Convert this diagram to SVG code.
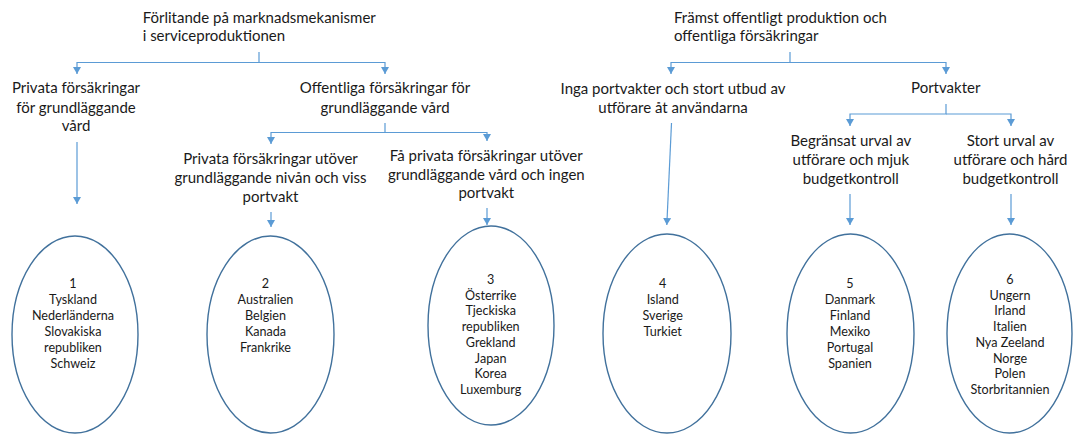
<svg xmlns="http://www.w3.org/2000/svg" width="1074" height="435" viewBox="0 0 1074 435">
<style>
text{font-family:Lato,"Liberation Sans",sans-serif;fill:#1a1a1a}
.h{font-size:15px}
.l{font-size:15px;text-anchor:middle}
.e{font-size:12.6px;text-anchor:middle}
.c{fill:none;stroke:#5B9BD5;stroke-width:1.2;marker-end:url(#ah)}
.ov{fill:none;stroke:#41719C;stroke-width:1.4}
</style>
<defs>
<marker id="ah" viewBox="0 0 7 8" refX="7" refY="4" markerWidth="7" markerHeight="8" markerUnits="userSpaceOnUse" orient="auto">
<path d="M0,0 L7,4 L0,8 z" fill="#5B9BD5"/>
</marker>
</defs>
<rect width="1074" height="435" fill="#fff"/>
<g id="connectors">
<path class="c" d="M259,52 V62.5 H77 V74"/>
<path class="c" d="M259,62.5 H385 V74"/>
<path class="c" d="M77,142 V204"/>
<path class="c" d="M385,123 V132.5 H271 V144"/>
<path class="c" d="M385,132.5 H487 V141"/>
<path class="c" d="M271,212 V227"/>
<path class="c" d="M487,208 V225"/>
<path class="c" d="M790,52 V62.5 H671 V74"/>
<path class="c" d="M790,62.5 H946 V74"/>
<path class="c" d="M671.5,123 L666.8,225"/>
<path class="c" d="M946,104 V114 H850 V126"/>
<path class="c" d="M946,114 H1011 V126"/>
<path class="c" d="M850,194 V225"/>
<path class="c" d="M1011,194 V225"/>
</g>
<g id="root-market">
<text class="h" x="142.7" y="23.3">Förlitande på marknadsmekanismer</text>
<text class="h" x="142.7" y="41">i serviceproduktionen</text>
</g>
<g id="root-public">
<text class="h" x="674" y="23">Främst offentligt produktion och</text>
<text class="h" x="674" y="41">offentliga försäkringar</text>
</g>
<g id="private-basic">
<text class="l" x="76" y="93.3">Privata försäkringar</text>
<text class="l" x="76" y="112.5">för grundläggande</text>
<text class="l" x="76" y="131">vård</text>
</g>
<g id="public-basic">
<text class="l" x="385" y="93.3">Offentliga försäkringar för</text>
<text class="l" x="385" y="112.5">grundläggande vård</text>
</g>
<g id="private-extra">
<text class="l" x="270.5" y="164">Privata försäkringar utöver</text>
<text class="l" x="270.5" y="183">grundläggande nivån och viss</text>
<text class="l" x="270.5" y="201.7">portvakt</text>
</g>
<g id="few-private">
<text class="l" x="486.3" y="160.7">Få privata försäkringar utöver</text>
<text class="l" x="486.3" y="179.7">grundläggande vård och ingen</text>
<text class="l" x="486.3" y="198.2">portvakt</text>
</g>
<g id="no-gatekeepers">
<text class="l" x="673" y="93.5">Inga portvakter och stort utbud av</text>
<text class="l" x="673" y="112.5">utförare åt användarna</text>
</g>
<g id="gatekeepers">
<text class="l" x="945.7" y="93.3">Portvakter</text>
</g>
<g id="limited-choice">
<text class="l" x="850.8" y="146">Begränsat urval av</text>
<text class="l" x="850.8" y="165">utförare och mjuk</text>
<text class="l" x="850.8" y="183.5">budgetkontroll</text>
</g>
<g id="large-choice">
<text class="l" x="1010.5" y="146">Stort urval av</text>
<text class="l" x="1010.5" y="165">utförare och hård</text>
<text class="l" x="1010.5" y="183.5">budgetkontroll</text>
</g>
<g id="group1">
<ellipse class="ov" cx="75" cy="334.5" rx="63" ry="98.5"/>
<text class="e" x="73" y="288">1</text>
<text class="e" x="73" y="304">Tyskland</text>
<text class="e" x="73" y="320">Nederländerna</text>
<text class="e" x="73" y="336">Slovakiska</text>
<text class="e" x="73" y="352">republiken</text>
<text class="e" x="73" y="368">Schweiz</text>
</g>
<g id="group2">
<ellipse class="ov" cx="270.5" cy="334.5" rx="63.5" ry="98.5"/>
<text class="e" x="265.5" y="288">2</text>
<text class="e" x="265.5" y="304">Australien</text>
<text class="e" x="265.5" y="320">Belgien</text>
<text class="e" x="265.5" y="336">Kanada</text>
<text class="e" x="265.5" y="352">Frankrike</text>
</g>
<g id="group3">
<ellipse class="ov" cx="491" cy="325.5" rx="63" ry="99.5"/>
<text class="e" x="490.7" y="284">3</text>
<text class="e" x="490.7" y="299.7">Österrike</text>
<text class="e" x="490.7" y="315.4">Tjeckiska</text>
<text class="e" x="490.7" y="331.1">republiken</text>
<text class="e" x="490.7" y="346.8">Grekland</text>
<text class="e" x="490.7" y="362.5">Japan</text>
<text class="e" x="490.7" y="378.2">Korea</text>
<text class="e" x="490.7" y="393.9">Luxemburg</text>
</g>
<g id="group4">
<ellipse class="ov" cx="667" cy="333.5" rx="64" ry="99.5"/>
<text class="e" x="662.7" y="288">4</text>
<text class="e" x="662.7" y="304">Island</text>
<text class="e" x="662.7" y="320">Sverige</text>
<text class="e" x="662.7" y="336">Turkiet</text>
</g>
<g id="group5">
<ellipse class="ov" cx="850.5" cy="333.5" rx="63.5" ry="99.5"/>
<text class="e" x="850" y="288">5</text>
<text class="e" x="850" y="304">Danmark</text>
<text class="e" x="850" y="320">Finland</text>
<text class="e" x="850" y="336">Mexiko</text>
<text class="e" x="850" y="352">Portugal</text>
<text class="e" x="850" y="368">Spanien</text>
</g>
<g id="group6">
<ellipse class="ov" cx="1009.5" cy="333.5" rx="62.5" ry="99.5"/>
<text class="e" x="1010" y="284">6</text>
<text class="e" x="1010" y="299.7">Ungern</text>
<text class="e" x="1010" y="315.4">Irland</text>
<text class="e" x="1010" y="331.1">Italien</text>
<text class="e" x="1010" y="346.8">Nya Zeeland</text>
<text class="e" x="1010" y="362.5">Norge</text>
<text class="e" x="1010" y="378.2">Polen</text>
<text class="e" x="1010" y="393.9">Storbritannien</text>
</g>
</svg>
